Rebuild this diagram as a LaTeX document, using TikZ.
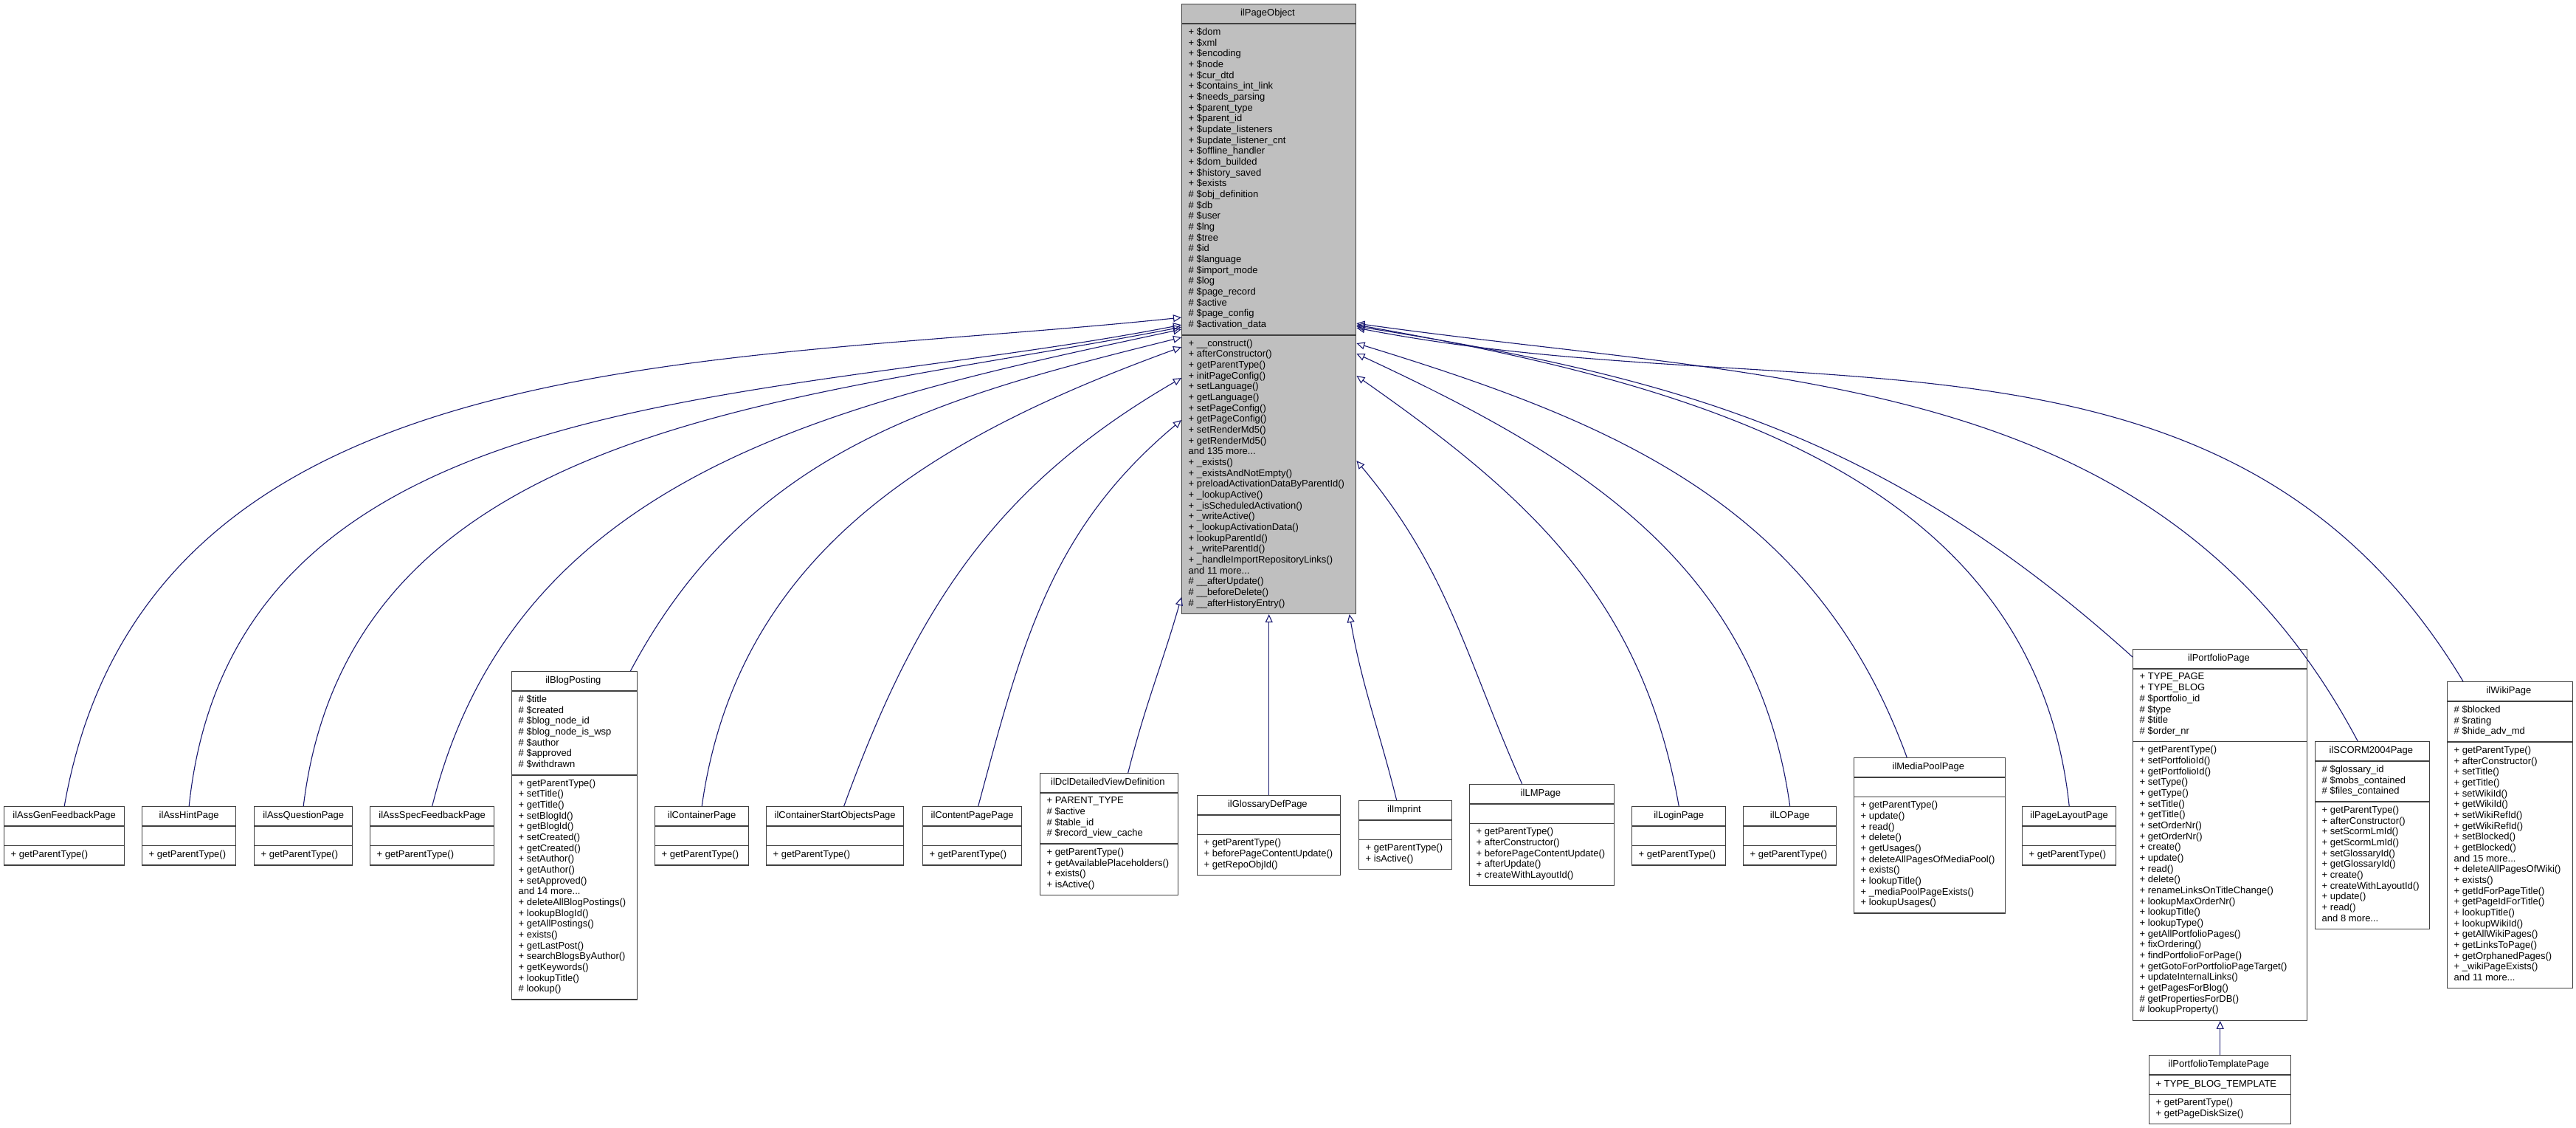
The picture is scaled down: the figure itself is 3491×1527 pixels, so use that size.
\documentclass[tikz,border=0pt]{standalone}
\usepackage{fontspec}
\setmainfont{Liberation Sans}
\usepackage{tikz}
\usepackage{xcolor}
\usetikzlibrary{shapes.multipart,arrows.meta}

\definecolor{edgeblue}{HTML}{191970}
\definecolor{boxline}{HTML}{404040}

\begin{document}
\begin{tikzpicture}[
    x=1pt, y=1pt,
    classbox/.style={
        rectangle split, rectangle split parts=3,
        rectangle split part align={center,left,left},
        draw=boxline, line width=1.4pt, fill=white,
        font=\fontsize{13}{14.67}\selectfont,
        inner xsep=9pt, inner ysep=5.15pt,
        align=left, anchor=north west,
        execute at begin node=\strut, execute at end node=\strut
    },
    inherit/.style={
        draw=edgeblue, line width=1.1pt,
        -{Triangle[open, length=11pt, width=10pt]}
    }
]
    \useasboundingbox[fill=white] (0,0) rectangle (3491,1527);

    % Base class
    \node[classbox, fill=black!25, minimum width=236] (obj) at (1601,1522) {ilPageObject
        \nodepart{second}
        + \$dom\\+ \$xml\\+ \$encoding\\+ \$node\\+ \$cur\_dtd\\+ \$contains\_int\_link\\+ \$needs\_parsing\\
        + \$parent\_type\\+ \$parent\_id\\+ \$update\_listeners\\+ \$update\_listener\_cnt\\+ \$offline\_handler\\
        + \$dom\_builded\\+ \$history\_saved\\+ \$exists\\\# \$obj\_definition\\\# \$db\\\# \$user\\\# \$lng\\
        \# \$tree\\\# \$id\\\# \$language\\\# \$import\_mode\\\# \$log\\\# \$page\_record\\\# \$active\\
        \# \$page\_config\\\# \$activation\_data
        \nodepart{third}
        + \_\_construct()\\+ afterConstructor()\\+ getParentType()\\+ initPageConfig()\\+ setLanguage()\\
        + getLanguage()\\+ setPageConfig()\\+ getPageConfig()\\+ setRenderMd5()\\+ getRenderMd5()\\
        and 135 more...\\+ \_exists()\\+ \_existsAndNotEmpty()\\+ preloadActivationDataByParentId()\\
        + \_lookupActive()\\+ \_isScheduledActivation()\\+ \_writeActive()\\+ \_lookupActivationData()\\
        + lookupParentId()\\+ \_writeParentId()\\+ \_handleImportRepositoryLinks()\\and 11 more...\\
        \# \_\_afterUpdate()\\\# \_\_beforeDelete()\\\# \_\_afterHistoryEntry()};

    % Derived classes, left of the base
    \node[classbox, minimum width=163] (assgen) at (5,435) {ilAssGenFeedbackPage\nodepart{second}\nodepart{third}+ getParentType()};
    \node[classbox, minimum width=127] (asshint) at (192,435) {ilAssHintPage\nodepart{second}\nodepart{third}+ getParentType()};
    \node[classbox, minimum width=133] (assquest) at (344,435) {ilAssQuestionPage\nodepart{second}\nodepart{third}+ getParentType()};
    \node[classbox, minimum width=168] (assspec) at (501,435) {ilAssSpecFeedbackPage\nodepart{second}\nodepart{third}+ getParentType()};
    \node[classbox, minimum width=170] (blog) at (693,618) {ilBlogPosting
        \nodepart{second}
        \# \$title\\\# \$created\\\# \$blog\_node\_id\\\# \$blog\_node\_is\_wsp\\\# \$author\\\# \$approved\\\# \$withdrawn
        \nodepart{third}
        + getParentType()\\+ setTitle()\\+ getTitle()\\+ setBlogId()\\+ getBlogId()\\+ setCreated()\\
        + getCreated()\\+ setAuthor()\\+ getAuthor()\\+ setApproved()\\and 14 more...\\
        + deleteAllBlogPostings()\\+ lookupBlogId()\\+ getAllPostings()\\+ exists()\\+ getLastPost()\\
        + searchBlogsByAuthor()\\+ getKeywords()\\+ lookupTitle()\\\# lookup()};
    \node[classbox, minimum width=127] (container) at (887,435) {ilContainerPage\nodepart{second}\nodepart{third}+ getParentType()};
    \node[classbox, minimum width=186] (contstart) at (1038,435) {ilContainerStartObjectsPage\nodepart{second}\nodepart{third}+ getParentType()};
    \node[classbox, minimum width=134] (content) at (1250,435) {ilContentPagePage\nodepart{second}\nodepart{third}+ getParentType()};
    \node[classbox, minimum width=187] (dcl) at (1409,480) {ilDclDetailedViewDefinition
        \nodepart{second}
        + PARENT\_TYPE\\\# \$active\\\# \$table\_id\\\# \$record\_view\_cache
        \nodepart{third}
        + getParentType()\\+ getAvailablePlaceholders()\\+ exists()\\+ isActive()};

    % Derived classes, below and right of the base
    \node[classbox, minimum width=194] (glossary) at (1622,450) {ilGlossaryDefPage
        \nodepart{second}
        \nodepart{third}
        + getParentType()\\+ beforePageContentUpdate()\\+ getRepoObjId()};
    \node[classbox, minimum width=126] (imprint) at (1841,443) {ilImprint
        \nodepart{second}
        \nodepart{third}
        + getParentType()\\+ isActive()};
    \node[classbox, minimum width=196] (lm) at (1991,465) {ilLMPage
        \nodepart{second}
        \nodepart{third}
        + getParentType()\\+ afterConstructor()\\+ beforePageContentUpdate()\\+ afterUpdate()\\+ createWithLayoutId()};
    \node[classbox, minimum width=127] (login) at (2211,435) {ilLoginPage\nodepart{second}\nodepart{third}+ getParentType()};
    \node[classbox, minimum width=126] (lo) at (2362,435) {ilLOPage\nodepart{second}\nodepart{third}+ getParentType()};
    \node[classbox, minimum width=205] (media) at (2512,501) {ilMediaPoolPage
        \nodepart{second}
        \nodepart{third}
        + getParentType()\\+ update()\\+ read()\\+ delete()\\+ getUsages()\\+ deleteAllPagesOfMediaPool()\\
        + exists()\\+ lookupTitle()\\+ \_mediaPoolPageExists()\\+ lookupUsages()};
    \node[classbox, minimum width=127] (layout) at (2740,435) {ilPageLayoutPage\nodepart{second}\nodepart{third}+ getParentType()};
    \node[classbox, minimum width=236] (portfolio) at (2890,648) {ilPortfolioPage
        \nodepart{second}
        + TYPE\_PAGE\\+ TYPE\_BLOG\\\# \$portfolio\_id\\\# \$type\\\# \$title\\\# \$order\_nr
        \nodepart{third}
        + getParentType()\\+ setPortfolioId()\\+ getPortfolioId()\\+ setType()\\+ getType()\\+ setTitle()\\
        + getTitle()\\+ setOrderNr()\\+ getOrderNr()\\+ create()\\+ update()\\+ read()\\+ delete()\\
        + renameLinksOnTitleChange()\\+ lookupMaxOrderNr()\\+ lookupTitle()\\+ lookupType()\\
        + getAllPortfolioPages()\\+ fixOrdering()\\+ findPortfolioForPage()\\+ getGotoForPortfolioPageTarget()\\
        + updateInternalLinks()\\+ getPagesForBlog()\\\# getPropertiesForDB()\\\# lookupProperty()};
    \node[classbox, minimum width=192] (template) at (2912,98) {ilPortfolioTemplatePage
        \nodepart{second}
        + TYPE\_BLOG\_TEMPLATE
        \nodepart{third}
        + getParentType()\\+ getPageDiskSize()};
    \node[classbox, minimum width=155] (scorm) at (3137,523) {ilSCORM2004Page
        \nodepart{second}
        \# \$glossary\_id\\\# \$mobs\_contained\\\# \$files\_contained
        \nodepart{third}
        + getParentType()\\+ afterConstructor()\\+ setScormLmId()\\+ getScormLmId()\\+ setGlossaryId()\\
        + getGlossaryId()\\+ create()\\+ createWithLayoutId()\\+ update()\\+ read()\\and 8 more...};
    \node[classbox, minimum width=170] (wiki) at (3316,604) {ilWikiPage
        \nodepart{second}
        \# \$blocked\\\# \$rating\\\# \$hide\_adv\_md
        \nodepart{third}
        + getParentType()\\+ afterConstructor()\\+ setTitle()\\+ getTitle()\\+ setWikiId()\\+ getWikiId()\\
        + setWikiRefId()\\+ getWikiRefId()\\+ setBlocked()\\+ getBlocked()\\and 15 more...\\
        + deleteAllPagesOfWiki()\\+ exists()\\+ getIdForPageTitle()\\+ getPageIdForTitle()\\+ lookupTitle()\\
        + lookupWikiId()\\+ getAllWikiPages()\\+ getLinksToPage()\\+ getOrphanedPages()\\+ \_wikiPageExists()\\
        and 11 more...};

    % Inheritance edges
    \draw[inherit] (assgen.north) .. controls +(112,635) and +(-641,-67) .. ([yshift=-11.5]obj.west);
    \draw[inherit] (asshint.north) .. controls +(61,580) and +(-572,-111) .. ([yshift=-21.5]obj.west);
    \draw[inherit] (assquest.north) .. controls +(64,525) and +(-519,-101) .. ([yshift=-24.5]obj.west);
    \draw[inherit] (assspec.north) .. controls +(114,456) and +(-460,-98) .. ([yshift=-27.5]obj.west);
    \draw[inherit] ([xshift=-10]blog.north east) .. controls +(160,301) and +(-331,-82) .. ([yshift=-38.5]obj.west);
    \draw[inherit] (container.north) .. controls +(49,348) and +(-330,-120) .. ([yshift=-51.5]obj.west);
    \draw[inherit] ([xshift=12]contstart.north) .. controls +(99,272) and +(-250,-145) .. ([yshift=-93.5]obj.west);
    \draw[inherit] ([xshift=8]content.north) .. controls +(60,223) and +(-177,-148) .. ([yshift=-150.5]obj.west);
    \draw[inherit] ([xshift=25.5]dcl.north) .. controls +(24,95) and +(-27,-94) .. ([yshift=-390.5]obj.west);
    \draw[inherit] (glossary.north) -- (obj.south);
    \draw[inherit] ([xshift=-12]imprint.north) .. controls +(-25,100) and +(18,-101) .. ([xshift=109]obj.south);
    \draw[inherit] ([xshift=-27]lm.north) .. controls +(-78,176) and +(124,-148) .. ([yshift=-205.5]obj.east);
    \draw[inherit] (login.north) .. controls +(-49,281) and +(233,-163) .. ([yshift=-90.5]obj.east);
    \draw[inherit] (lo.north) .. controls +(-46,329) and +(301,-140) .. ([yshift=-60.5]obj.east);
    \draw[inherit] ([xshift=-31]media.north) .. controls +(-125,343) and +(349,-107) .. ([yshift=-46.5]obj.east);
    \draw[inherit] (layout.north) .. controls +(-48,453) and +(448,-79) .. ([yshift=-21.5]obj.east);
    \draw[inherit] ([yshift=-11]portfolio.north west) .. controls +(-332,299) and +(441,-70) .. ([yshift=-23.5]obj.east);
    \draw[inherit] ([xshift=-20]scorm.north) .. controls +(-269,507) and +(568,-80) .. ([yshift=-19.5]obj.east);
    \draw[inherit] ([xshift=22]wiki.north west) .. controls +(-317,527) and +(604,-117) .. ([yshift=-25.5]obj.east);
    \draw[inherit] (template.north) -- (portfolio.south);
\end{tikzpicture}
\end{document}
